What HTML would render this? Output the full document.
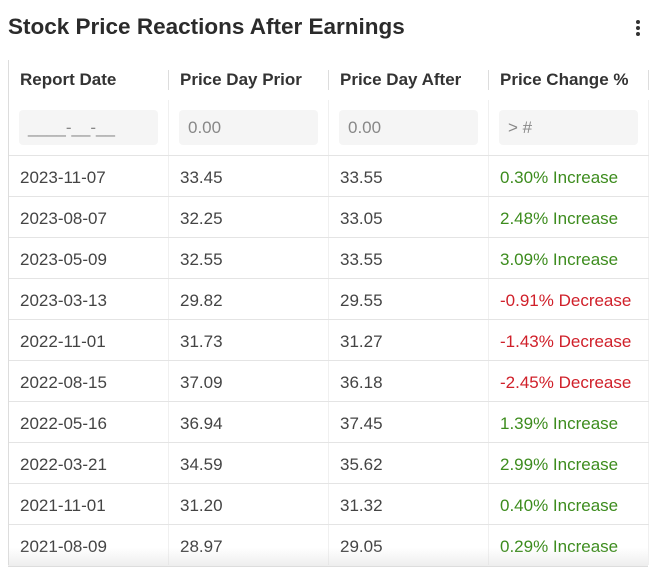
<!DOCTYPE html>
<html><head><meta charset="utf-8"><style>
body{margin:0;width:661px;height:572px;background:#fff;font-family:"Liberation Sans",Arial,sans-serif;overflow:hidden;position:relative;color:#444}
.title{position:absolute;left:8px;top:14px;font-size:22.5px;font-weight:bold;color:#2b2b2b}
.menu{position:absolute;left:636px;top:20px;width:4px}
.menu i{display:block;width:4px;height:4px;border-radius:2px;background:#333;margin-bottom:2px}
.tbl{position:absolute;left:8px;top:60px;width:640px;border-left:1px solid #ddd}
.row{display:flex;height:41px;border-top:1px solid #e4e4e4;box-sizing:border-box}
.c{width:160px;box-sizing:border-box;padding-left:11px;display:flex;align-items:center;font-size:17px;border-right:1px solid #f0f0f0;padding-top:3px}
.hdr{height:40px;border-top:none}
.hdr .c{font-weight:bold;color:#333;border-right:none;position:relative;padding-top:0}
.hdr .c::after{content:"";position:absolute;right:0;top:10px;height:20px;border-right:1px solid #ddd}
.flt{height:55px;border-top:none}
.flt .c{padding:0 10px}
.inp{width:140px;height:35px;background:#f5f5f5;border-radius:4px;color:#888;font-size:17px;display:flex;align-items:center;padding-left:9px;box-sizing:border-box}
.g{color:#3d8c1e}.r{color:#d0202a}
.shadow{position:absolute;left:8px;top:548px;width:640px;height:18px;background:linear-gradient(rgba(255,255,255,0),rgba(220,220,220,0.5))}
.bot{position:absolute;left:8px;top:566px;width:640px;border-top:1px solid #ddd}
</style></head><body>
<div class="title">Stock Price Reactions After Earnings</div>
<div class="menu"><i></i><i></i><i></i></div>
<div class="tbl">
<div class="row hdr">
<div class="c">Report Date</div>
<div class="c">Price Day Prior</div>
<div class="c">Price Day After</div>
<div class="c">Price Change %</div>
</div>
<div class="row flt">
<div class="c"><div class="inp">____-__-__</div></div>
<div class="c"><div class="inp">0.00</div></div>
<div class="c"><div class="inp">0.00</div></div>
<div class="c"><div class="inp">&gt; #</div></div>
</div>
<div id="body"></div>
</div>
<div class="shadow"></div>
<div class="bot"></div>
<script>
const dates=["2023-11-07","2023-08-07","2023-05-09","2023-03-13","2022-11-01","2022-08-15","2022-05-16","2022-03-21","2021-11-01","2021-08-09"];
const prior=["33.45","32.25","32.55","29.82","31.73","37.09","36.94","34.59","31.20","28.97"];
const after=["33.55","33.05","33.55","29.55","31.27","36.18","37.45","35.62","31.32","29.05"];
const change=[0.30,2.48,3.09,-0.91,-1.43,-2.45,1.39,2.99,0.40,0.29];
const body=document.getElementById('body');
dates.forEach((d,i)=>{
 const row=document.createElement('div');row.className='row';
 
 
 const ch=change[i];
 const vals=[d,prior[i],after[i],ch.toFixed(2)+'% '+(ch>=0?'Increase':'Decrease')];
 vals.forEach((v,j)=>{
  const c=document.createElement('div');c.className='c'+(j==3?(ch>=0?' g':' r'):'');
  
  
  c.textContent=v;row.appendChild(c);
 });
 body.appendChild(row);
});
</script>
</body></html>
